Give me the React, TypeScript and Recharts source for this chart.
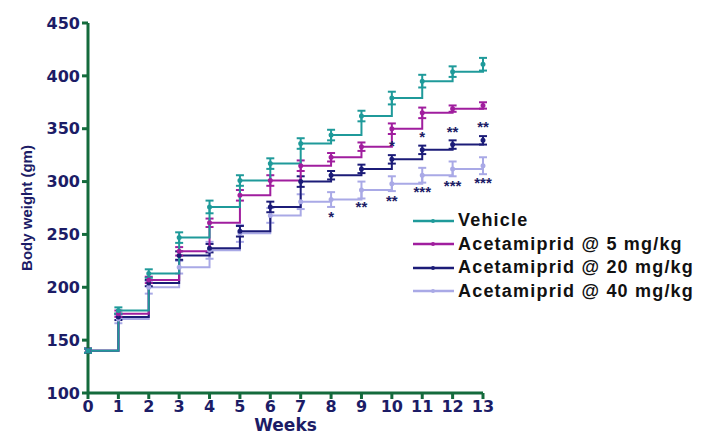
import React from 'react';
import { ComposedChart, Line, XAxis, YAxis, ErrorBar, LabelList } from 'recharts';

const weeks = [0, 1, 2, 3, 4, 5, 6, 7, 8, 9, 10, 11, 12, 13];
const vehicle = [140, 178, 213, 247, 276, 301, 317, 336, 344, 362, 379, 395, 404, 411];
const dose5 = [140, 175, 207, 234, 261, 287, 301, 315, 323, 333, 350, 365, 369, 372];
const dose20 = [140, 172, 204, 230, 237, 253, 276, 300, 306, 312, 321, 330, 335, 339];
const dose40 = [140, 170, 200, 219, 235, 251, 268, 281, 283, 292, 298, 306, 312, 315];

const vehicleErr = [2, 3, 4, 5, 6, 5, 5, 5, 5, 5, 6, 6, 5, 6];
const dose5Err = [2, 3, 3, 4, 4, 5, 5, 5, 4, 4, 5, 5, 3, 3];
const dose20Err = [2, 3, 3, 4, 4, 5, 5, 5, 4, 4, 4, 4, 4, 4];
const dose40Err = [2, 4, 6, 6, 8, 8, 7, 7, 7, 8, 7, 7, 7, 8];

const sig20 = ['', '', '', '', '', '', '', '', '', '', '*', '*', '**', '**'];
const sig40 = ['', '', '', '', '', '', '', '', '*', '**', '**', '***', '***', '***'];

const yTicks = [100, 150, 200, 250, 300, 350, 400, 450];

const seriesNames = ['Vehicle', 'Acetamiprid @ 5 mg/kg', 'Acetamiprid @ 20 mg/kg', 'Acetamiprid @ 40 mg/kg'];
const colors = ['#1f9a9a', '#a01e9e', '#1c1c78', '#a9a9e6'];

const data = weeks.map((w, i) => ({
  week: w,
  v: vehicle[i], vE: vehicleErr[i],
  d5: dose5[i], d5E: dose5Err[i],
  d20: dose20[i], d20E: dose20Err[i],
  d40: dose40[i], d40E: dose40Err[i],
  s20: sig20[i], s40: sig40[i],
}));

const axisColor = '#146b3c';
const textColor = '#1c1c66';
const font = 'Liberation Sans, Arial, sans-serif';
const heavy = 'DejaVu Sans, sans-serif';

const SigLabel = (dy: number) => (props: any) => {
  const { x, y, value } = props;
  if (!value) return null;
  return (
    <text x={x} y={y + dy} textAnchor="middle" fontFamily={font} fontWeight="bold" fontSize={15} fill={textColor}>
      {value}
    </text>
  );
};

const YLabel = (props: any) => {
  const { viewBox } = props;
  const cx = 26;
  const cy = viewBox.y + viewBox.height / 2;
  return (
    <text x={cx} y={cy} transform={`rotate(-90 ${cx} ${cy})`} textAnchor="middle" dominantBaseline="central" fontFamily={font} fontWeight="bold" fontSize={15} fill={textColor}>
      Body weight (gm)
    </text>
  );
};

const XLabel = (props: any) => {
  const { viewBox } = props;
  const cx = viewBox.x + viewBox.width / 2;
  return (
    <text x={cx} y={431} textAnchor="middle" fontFamily={heavy} fontWeight="bold" fontSize={17} fill={textColor}>
      Weeks
    </text>
  );
};

const LegendBox = () => (
  <div style={{ position: 'absolute', left: 413, top: 209, fontFamily: font, fontWeight: 'bold', fontSize: 18, letterSpacing: 1.2, color: '#111' }}>
    {seriesNames.map((n, i) => (
      <div key={n} style={{ display: 'flex', alignItems: 'center', height: 23.5, whiteSpace: 'nowrap' }}>
        <svg width={42} height={10} style={{ marginRight: 3 }}>
          <line x1={0} y1={5} x2={41} y2={5} stroke={colors[i]} strokeWidth={2.5} />
          <circle cx={20} cy={5} r={2} fill={colors[i]} />
        </svg>
        <span>{n}</span>
      </div>
    ))}
  </div>
);

export default function App() {
  const tickStyle = { fontFamily: heavy, fontWeight: 'bold', fontSize: 16, fill: textColor };
  return (
    <div style={{ position: 'absolute', left: 0, top: 0, width: 711, height: 437, background: '#fff', overflow: 'hidden' }}>
      <ComposedChart width={711} height={437} data={data} margin={{ top: 23, right: 228, bottom: 0, left: 0 }}>
        <XAxis
          dataKey="week"
          type="number"
          domain={[0, 13]}
          ticks={weeks}
          interval={0}
          stroke={axisColor}
          strokeWidth={3}
          tickSize={6}
          tick={tickStyle}
          height={44}
          label={<XLabel />}
        />
        <YAxis
          type="number"
          domain={[100, 450]}
          ticks={yTicks}
          interval={0}
          stroke={axisColor}
          strokeWidth={3}
          tickSize={6}
          tick={tickStyle}
          width={88}
          label={<YLabel />}
        />
        <Line type="stepAfter" dataKey="d40" name={seriesNames[3]} stroke={colors[3]} strokeWidth={2} dot={{ r: 1.5, fill: colors[3], stroke: colors[3] }} isAnimationActive={false}>
          <ErrorBar dataKey="d40E" width={4} stroke={colors[3]} strokeWidth={2} direction="y" />
          <LabelList dataKey="s40" content={SigLabel(22)} />
        </Line>
        <Line type="stepAfter" dataKey="d20" name={seriesNames[2]} stroke={colors[2]} strokeWidth={2} dot={{ r: 1.5, fill: colors[2], stroke: colors[2] }} isAnimationActive={false}>
          <ErrorBar dataKey="d20E" width={4} stroke={colors[2]} strokeWidth={2} direction="y" />
          <LabelList dataKey="s20" content={SigLabel(-8)} />
        </Line>
        <Line type="stepAfter" dataKey="d5" name={seriesNames[1]} stroke={colors[1]} strokeWidth={2} dot={{ r: 1.5, fill: colors[1], stroke: colors[1] }} isAnimationActive={false}>
          <ErrorBar dataKey="d5E" width={4} stroke={colors[1]} strokeWidth={2} direction="y" />
        </Line>
        <Line type="stepAfter" dataKey="v" name={seriesNames[0]} stroke={colors[0]} strokeWidth={2} dot={{ r: 1.5, fill: colors[0], stroke: colors[0] }} isAnimationActive={false}>
          <ErrorBar dataKey="vE" width={4} stroke={colors[0]} strokeWidth={2} direction="y" />
        </Line>
      </ComposedChart>
      <LegendBox />
    </div>
  );
}
